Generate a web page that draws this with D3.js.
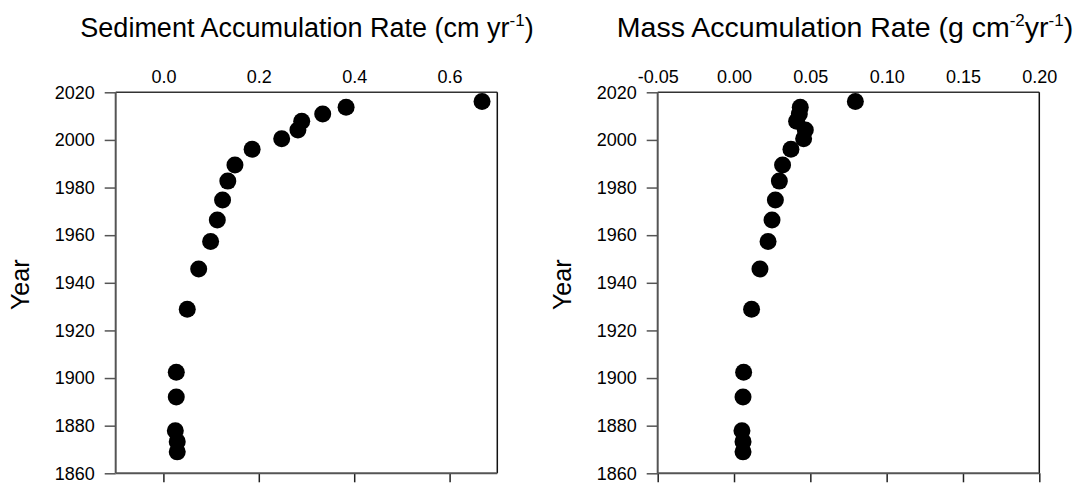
<!DOCTYPE html>
<html>
<head>
<meta charset="utf-8" />
<script src="https://cdn.jsdelivr.net/npm/d3@7"></script>
<style>
	body { margin: 0; background: #fff; }
	svg text { font-family: "Liberation Sans", Arial, sans-serif; fill: #000; }
</style>
</head>
<body>
<div id="chart"></div>
<script>

// data (same depth intervals for both panels)
var years = [2016.1, 2013.7, 2010.9, 2007.8, 2004.2, 2000.5, 1996.1, 1989.5, 1982.7, 1974.8,
	1966.4, 1957.3, 1945.8, 1928.9, 1902.4, 1892.0, 1877.9, 1873.3, 1869.0];
var sedRate = [0.668, 0.383, 0.334, 0.290, 0.282, 0.248, 0.186, 0.150, 0.135, 0.124,
	0.113, 0.099, 0.074, 0.050, 0.027, 0.027, 0.025, 0.029, 0.029];
var massRate = [0.0795, 0.0434, 0.0428, 0.0410, 0.0467, 0.0456, 0.0373, 0.0318, 0.0297, 0.0271,
	0.0249, 0.0223, 0.0170, 0.0115, 0.0063, 0.0059, 0.0052, 0.0059, 0.0059];

var yearTicks = [1860, 1880, 1900, 1920, 1940, 1960, 1980, 2000, 2020];
var sedTicks = [0.0, 0.2, 0.4, 0.6];
var massTicks = [-0.05, 0.00, 0.05, 0.10, 0.15, 0.20];

var W = 1087, H = 484;
var svg = d3.select("#chart").append("svg")
	.attr("width", W)
	.attr("height", H);

var plotTop = 92.3, plotBottom = 473.3;

// one panel
function panel(opts) {
	var x = d3.scaleLinear().domain(opts.domain).range([opts.left, opts.left + 381.6]);
	var y = d3.scaleLinear().domain([1860, 2020]).range([plotBottom, plotTop]);
	var g = svg.append("g");
	var fmt = d3.format(opts.fmt);

	// left axis
	var ya = g.append("g")
		.attr("transform", "translate(" + opts.left + ",0)")
		.call(d3.axisLeft(y).tickValues(yearTicks).tickSize(11).tickPadding(10).tickFormat(d3.format("d")));
	ya.select(".domain").remove();
	ya.selectAll(".tick line").attr("stroke", "#555").attr("stroke-width", 1.5);
	ya.selectAll(".tick text").style("font-size", "18px");

	// bottom axis, tick marks only
	var xb = g.append("g")
		.attr("transform", "translate(0," + plotBottom + ")")
		.call(d3.axisBottom(x).tickValues(opts.ticks).tickSize(9).tickFormat(""));
	xb.select(".domain").remove();
	xb.selectAll(".tick line").attr("stroke", "#222").attr("stroke-width", 1.5);

	// top axis, labels only (plain hyphen for negatives)
	var xt = g.append("g")
		.attr("transform", "translate(0," + plotTop + ")")
		.call(d3.axisTop(x).tickValues(opts.ticks).tickSize(0).tickPadding(9)
			.tickFormat(function (d) { return fmt(d).replace("\u2212", "-"); }));
	xt.select(".domain").remove();
	xt.selectAll(".tick text").style("font-size", "18px");

	// frame
	var x0 = x.range()[0], x1 = x.range()[1];
	g.append("line").attr("x1", x0).attr("x2", x1).attr("y1", plotTop).attr("y2", plotTop)
		.attr("stroke", "#333").attr("stroke-width", 1.5);
	g.append("line").attr("x1", x1).attr("x2", x1).attr("y1", plotTop).attr("y2", plotBottom)
		.attr("stroke", "#111").attr("stroke-width", 1.5);
	g.append("line").attr("x1", x0).attr("x2", x0).attr("y1", plotTop).attr("y2", plotBottom)
		.attr("stroke", "#555").attr("stroke-width", 2);
	g.append("line").attr("x1", x0).attr("x2", x1).attr("y1", plotBottom).attr("y2", plotBottom)
		.attr("stroke", "#555").attr("stroke-width", 2);

	// points
	g.selectAll("circle")
		.data(years)
		.enter()
		.append("circle")
		.attr("cx", function (d, i) { return x(opts.values[i]); })
		.attr("cy", function (d) { return y(d); })
		.attr("r", 8.5)
		.attr("fill", "#000");

	// y title
	g.append("text")
		.attr("transform", "translate(" + (opts.left - 87) + "," + ((plotTop + plotBottom) / 2 + 2) + ") rotate(-90)")
		.attr("text-anchor", "middle")
		.style("font-size", "25px")
		.text("Year");

	// title with superscripts
	var t = g.append("text")
		.attr("x", opts.titleX)
		.attr("y", 37)
		.attr("text-anchor", "middle")
		.style("font-size", opts.titleSize + "px");
	var shift = 0;
	opts.title.forEach(function (p) {
		var s = t.append("tspan").text(p.t);
		if (p.sup) {
			s.attr("dy", -11 - shift).style("font-size", "17px");
			shift = -11;
		} else {
			s.attr("dy", -shift);
			shift = 0;
		}
	});
}

panel({
	left: 115.7,
	domain: [-0.1, 0.7],
	ticks: sedTicks,
	fmt: ".1f",
	values: sedRate,
	titleX: 307,
	titleSize: 27,
	title: [{ t: "Sediment Accumulation Rate (cm yr" }, { t: "-1", sup: true }, { t: ")" }]
});

panel({
	left: 657.7,
	domain: [-0.05, 0.20],
	ticks: massTicks,
	fmt: ".2f",
	values: massRate,
	titleX: 845,
	titleSize: 28.5,
	title: [{ t: "Mass Accumulation Rate (g cm" }, { t: "-2", sup: true }, { t: "yr" }, { t: "-1", sup: true }, { t: ")" }]
});

</script>
</body>
</html>
